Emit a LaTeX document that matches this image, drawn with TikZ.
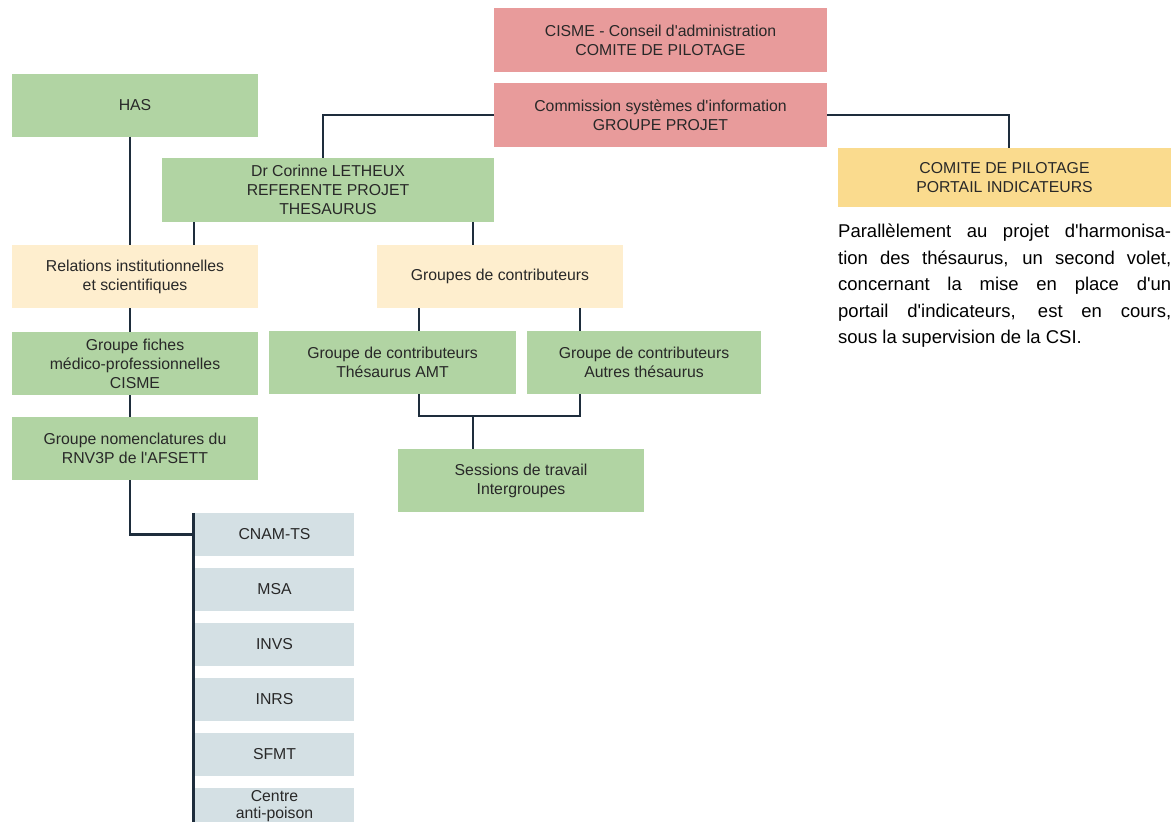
\documentclass[tikz,border=0pt]{standalone}
\usepackage{fontspec}
\setmainfont{Liberation Sans}
\usetikzlibrary{positioning}
\definecolor{cismered}{RGB}{232,155,155}
\definecolor{groupgreen}{RGB}{177,212,163}
\definecolor{relcream}{RGB}{254,238,206}
\definecolor{pilotyellow}{RGB}{250,219,142}
\definecolor{partnerblue}{RGB}{212,224,228}
\definecolor{linkblue}{RGB}{30,45,60}
\definecolor{boxtext}{RGB}{40,40,40}

\begin{document}
\begin{tikzpicture}[
    x=1pt, y=-1pt,
    box/.style={rectangle, inner sep=0pt, align=center, text=boxtext,
        font=\fontsize{15.8}{19}\selectfont},
    redbox/.style={box, fill=cismered, minimum width=333pt, minimum height=64pt},
    greenbox/.style={box, fill=groupgreen, minimum width=246pt, minimum height=63pt},
    creambox/.style={box, fill=relcream, minimum width=246pt, minimum height=63pt},
    partner/.style={box, fill=partnerblue, minimum width=159pt, minimum height=43pt},
    link/.style={draw=linkblue, line width=2.4pt},
]

\useasboundingbox (0,0) rectangle (1176,822);

%--- Connector x positions ---
\coordinate (xref) at (323,0);   % CSI to referente
\coordinate (xpil) at (1009,0);  % CSI to pilotage portail
\coordinate (xhas) at (130,0);   % left column
\coordinate (xrel) at (194,0);   % referente to relations
\coordinate (xgrp) at (473,0);   % referente to groupes
\coordinate (xamt) at (419,0);   % groupes to AMT
\coordinate (xaut) at (580,0);   % groupes to autres
\coordinate (join) at (473,416); % AMT + autres to sessions

%============================================================
% CISME
%============================================================
\node[redbox] (cisme) at (660.5,40) {CISME - Conseil d\textquotesingle administration\\COMITE DE PILOTAGE};
\node[redbox] (csi) at (660.5,115) {Commission systèmes d\textquotesingle information\\GROUPE PROJET};

%============================================================
% Left column
%============================================================
\node[greenbox] (has) at (135,105) {HAS};
\node[creambox] (relations) at (135,276.5) {Relations institutionnelles\\et scientifiques};
\node[greenbox] (fiches) at (135,363.5) {Groupe fiches\\médico-professionnelles\\CISME};
\node[greenbox] (nomencl) at (135,448.5) {Groupe nomenclatures du\\RNV3P de l\textquotesingle AFSETT};

%============================================================
% Referente and contributor groups
%============================================================
\node[greenbox, minimum width=332pt, minimum height=64pt] (referente) at (328,190)
    {Dr Corinne LETHEUX\\REFERENTE PROJET\\THESAURUS};
\node[creambox] (groupes) at (500,276.5) {Groupes de contributeurs};
\node[greenbox, minimum width=247pt] (amt) at (392.5,362.5)
    {Groupe de contributeurs\\Thésaurus AMT};
\node[greenbox, minimum width=234pt] (autres) at (644,362.5)
    {Groupe de contributeurs\\Autres thésaurus};
\node[greenbox] (sessions) at (521,480.5) {Sessions de travail\\Intergroupes};

%============================================================
% Partners
%============================================================
\node[partner] (cnam) at (274.5,534.5) {CNAM-TS};
\node[partner, below=11.5pt of cnam] (msa) {MSA};
\node[partner, below=11.5pt of msa] (invs) {INVS};
\node[partner, below=11.5pt of invs] (inrs) {INRS};
\node[partner, below=11.5pt of inrs] (sfmt) {SFMT};
\node[partner, below=11.5pt of sfmt, font=\fontsize{15.8}{16.5}\selectfont,
    text depth=9pt] (centre) {Centre\\anti-poison};

%============================================================
% Portail indicateurs
%============================================================
\node[box, fill=pilotyellow, minimum width=333pt, minimum height=59pt] (pilotage) at (1004.5,177.5)
    {COMITE DE PILOTAGE\\PORTAIL INDICATEURS};
\node[anchor=north west, inner sep=0pt, text width=333pt, align=justify, text=black,
    font=\fontsize{18.5}{26.5}\selectfont] (note) at (838,224)
    {Parallèlement au projet d\textquotesingle harmonisa-\linebreak tion des thésaurus, un second volet,\linebreak
     concernant la mise en place d\textquotesingle un\linebreak portail d\textquotesingle indicateurs, est en cours,\linebreak
     sous la supervision de la CSI.};

%============================================================
% Connectors
%============================================================
\draw[link] (csi.west) -| (referente.north -| xref);
\draw[link] (csi.east) -| (pilotage.north -| xpil);
\draw[link] (has.south -| xhas) -- (relations.north -| xhas);
\draw[link] (referente.south -| xrel) -- (relations.north -| xrel);
\draw[link] (referente.south -| xgrp) -- (groupes.north -| xgrp);
\draw[link] (relations.south -| xhas) -- (fiches.north -| xhas);
\draw[link] (fiches.south -| xhas) -- (nomencl.north -| xhas);
\draw[link] (groupes.south -| xamt) -- (amt.north -| xamt);
\draw[link] (groupes.south -| xaut) -- (autres.north -| xaut);
\draw[link] (amt.south -| xamt) |- (join) -| (autres.south -| xaut);
\draw[link] (join) -- (sessions.north -| join);
\draw[link] (nomencl.south -| xhas) |- ([xshift=-1.5pt]cnam.west);
\draw[link] ([xshift=-1.5pt]cnam.north west) -- ([xshift=-1.5pt]centre.south west);

\end{tikzpicture}
\end{document}
